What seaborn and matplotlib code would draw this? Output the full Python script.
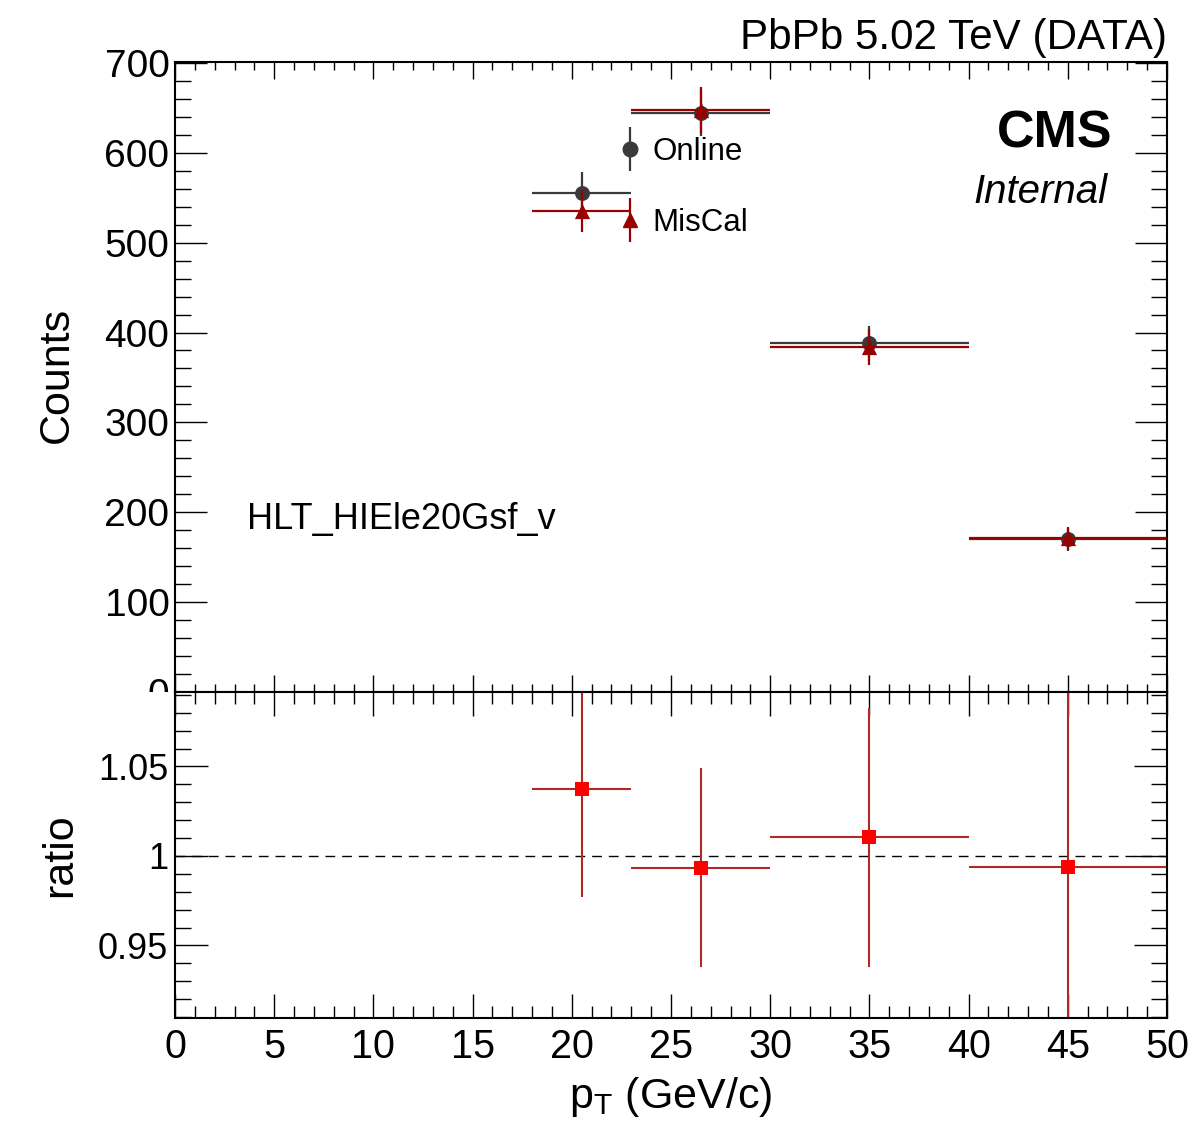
import numpy as np
import pandas as pd
import matplotlib
matplotlib.use("Agg")
import matplotlib.pyplot as plt
import seaborn as sns
from matplotlib.lines import Line2D
from matplotlib.container import ErrorbarContainer
from matplotlib.legend_handler import HandlerErrorbar
from matplotlib.patches import Rectangle
from matplotlib.ticker import MultipleLocator

# ---------------- data ----------------
bin_centers = [20.5, 26.5, 35.0, 45.0]
bin_halfwidths = [2.5, 3.5, 5.0, 5.0]
online_counts = [555, 644, 388, 170]
online_err = [23.6, 25.4, 19.7, 13.0]
miscal_counts = [535, 648, 384, 171]
miscal_err = [23.1, 25.5, 19.6, 13.1]
ratio_vals = [1.0375, 0.9935, 1.0104, 0.9940]
ratio_err = [0.0606, 0.0556, 0.0725, 0.108]
x_ticks = [0, 5, 10, 15, 20, 25, 30, 35, 40, 45, 50]
count_ticks = [0, 100, 200, 300, 400, 500, 600, 700]
ratio_ticks = [0.95, 1.0, 1.05]

df = pd.DataFrame({
    "pt": bin_centers,
    "online": online_counts,
    "miscal": miscal_counts,
    "ratio": ratio_vals,
})

sns.set_theme(style="ticks")
plt.rcParams["font.family"] = ["Liberation Sans", "DejaVu Sans"]
plt.rcParams["mathtext.fontset"] = "custom"
plt.rcParams["mathtext.rm"] = "Liberation Sans"
plt.rcParams["mathtext.it"] = "Liberation Sans:italic"
for k in ["text.color", "axes.labelcolor", "xtick.color", "ytick.color",
          "xtick.labelcolor", "ytick.labelcolor", "axes.edgecolor"]:
    plt.rcParams[k] = "black"

GRAY = "#3a3a3a"
DRED = "#990000"
RED = "#ff0000"
LRED = "#b02828"

fig = plt.figure(figsize=(11.95, 11.34), dpi=100)
fig.patch.set_facecolor("white")
L, R = 175 / 1195, 1167 / 1195
ax1 = fig.add_axes([L, 1 - 692 / 1134, R - L, (692 - 62) / 1134])
ax2 = fig.add_axes([L, 1 - 1018 / 1134, R - L, (1018 - 692) / 1134])

# ---------------- top panel ----------------
eb_on = ax1.errorbar(df["pt"], df["online"], xerr=bin_halfwidths, yerr=online_err,
                     fmt="none", ecolor=GRAY, elinewidth=1.6, capsize=0, zorder=2)
sns.scatterplot(data=df, x="pt", y="online", ax=ax1, marker="o", s=115,
                color=GRAY, edgecolor=GRAY, linewidth=0, zorder=3, legend=False)
eb_mis = ax1.errorbar(df["pt"], df["miscal"], xerr=bin_halfwidths, yerr=miscal_err,
                      fmt="none", ecolor=DRED, elinewidth=1.6, capsize=0, zorder=4)
sns.scatterplot(data=df, x="pt", y="miscal", ax=ax1, marker="^", s=120,
                color=DRED, edgecolor=DRED, linewidth=0, zorder=5, legend=False)

ax1.set_xlim(0, 50)
ax1.set_ylim(0, 701)
ax1.set_xticks(x_ticks)
ax1.set_yticks(count_ticks)
ax1.xaxis.set_minor_locator(MultipleLocator(1))
ax1.yaxis.set_minor_locator(MultipleLocator(20))
ax1.tick_params(axis="x", which="both", direction="in", top=True, bottom=True,
                labelbottom=False, width=1.0, color="black")
ax1.tick_params(axis="x", which="major", length=12)
ax1.tick_params(axis="x", which="minor", length=6)
ax1.tick_params(axis="y", which="both", direction="in", left=True, right=True,
                width=1.0, color="black", labelcolor="black", labelsize=28, pad=4)
ax1.tick_params(axis="y", which="major", length=23)
ax1.tick_params(axis="y", which="minor", length=11.5)
ax1.set_xlabel("")
ax1.set_ylabel("Counts", fontsize=31, va="center", color="black")
ax1.yaxis.set_label_coords(-0.119, 0.503)

# legend with vertical error bars only
h_on = ErrorbarContainer((Line2D([], [], marker="o", ms=10.5, color=GRAY, ls="none"),
                          (), (eb_on.lines[2][1],)), has_xerr=False, has_yerr=True)
h_mis = ErrorbarContainer((Line2D([], [], marker="^", ms=10.5, color=DRED, ls="none"),
                           (), (eb_mis.lines[2][1],)), has_xerr=False, has_yerr=True)
ax1.legend([h_on, h_mis], ["Online", "MisCal"], loc="upper left",
           bbox_to_anchor=(0.4495, 0.881), frameon=False, fontsize=22.5,
           handlelength=0.6, handletextpad=0.42, labelspacing=1.3,
           borderpad=0, borderaxespad=0, labelcolor="black",
           handler_map={ErrorbarContainer: HandlerErrorbar(yerr_size=0.7)})

ax1.text(0.0726, 0.2746, "HLT_HIEle20Gsf_v", transform=ax1.transAxes,
         fontsize=26, ha="left", va="center", color="black")
ax1.text(0.9446, 0.886, "CMS", transform=ax1.transAxes, fontsize=37.5,
         fontweight="bold", ha="right", va="center", color="black")
ax1.text(0.9405, 0.793, "Internal", transform=ax1.transAxes, fontsize=29,
         fontstyle="italic", ha="right", va="center", color="black")
fig.text(R, 1 - 38 / 1134, "PbPb 5.02 TeV (DATA)", fontsize=30.3,
         ha="right", va="center", color="black")

# ---------------- bottom panel ----------------
ax2.axhline(1.0, color="black", lw=1.0, dashes=(7, 5), zorder=1)
ax2.errorbar(df["pt"], df["ratio"], xerr=bin_halfwidths, yerr=ratio_err,
             fmt="none", ecolor=LRED, elinewidth=1.5, capsize=0, zorder=2)
sns.scatterplot(data=df, x="pt", y="ratio", ax=ax2, marker="s", s=100,
                color=RED, edgecolor=RED, linewidth=0, zorder=3, legend=False)
ax2.set_xlim(0, 50)
ax2.set_ylim(0.9095, 1.0916)
ax2.set_xticks(x_ticks)
ax2.set_yticks(ratio_ticks)
ax2.set_yticklabels(["0.95", "1", "1.05"])
ax2.xaxis.set_minor_locator(MultipleLocator(1))
ax2.yaxis.set_minor_locator(MultipleLocator(0.01))
ax2.tick_params(axis="x", which="both", direction="in", top=True, bottom=True,
                width=1.0, color="black", labelcolor="black", labelsize=28.5, pad=7)
ax2.tick_params(axis="x", which="major", length=17)
ax2.tick_params(axis="x", which="minor", length=8.5)
ax2.tick_params(axis="y", which="both", direction="in", left=True, right=True,
                width=1.0, color="black", labelcolor="black", labelsize=26, pad=5)
ax2.tick_params(axis="y", which="major", length=24)
ax2.tick_params(axis="y", which="minor", length=11.5)
ax2.set_ylabel("ratio", fontsize=31, va="center", color="black")
ax2.yaxis.set_label_coords(-0.116, 0.5)
ax2.set_xlabel(r"$\mathregular{p_{T}}$ (GeV/c)", fontsize=31, va="top", color="black")
ax2.xaxis.set_label_coords(0.5, -0.175)

for ax in (ax1, ax2):
    for sp in ax.spines.values():
        sp.set_linewidth(1.5)
        sp.set_color("black")
        sp.set_visible(True)
    ax.set_facecolor("white")

# lower pad hides the lower half of the "0" label
fig.patches.append(Rectangle((0, 1 - 720 / 1134), L - 0.002, 28 / 1134,
                             transform=fig.transFigure, facecolor="white",
                             edgecolor="none", zorder=10))

fig.savefig("out.png", dpi=100)
